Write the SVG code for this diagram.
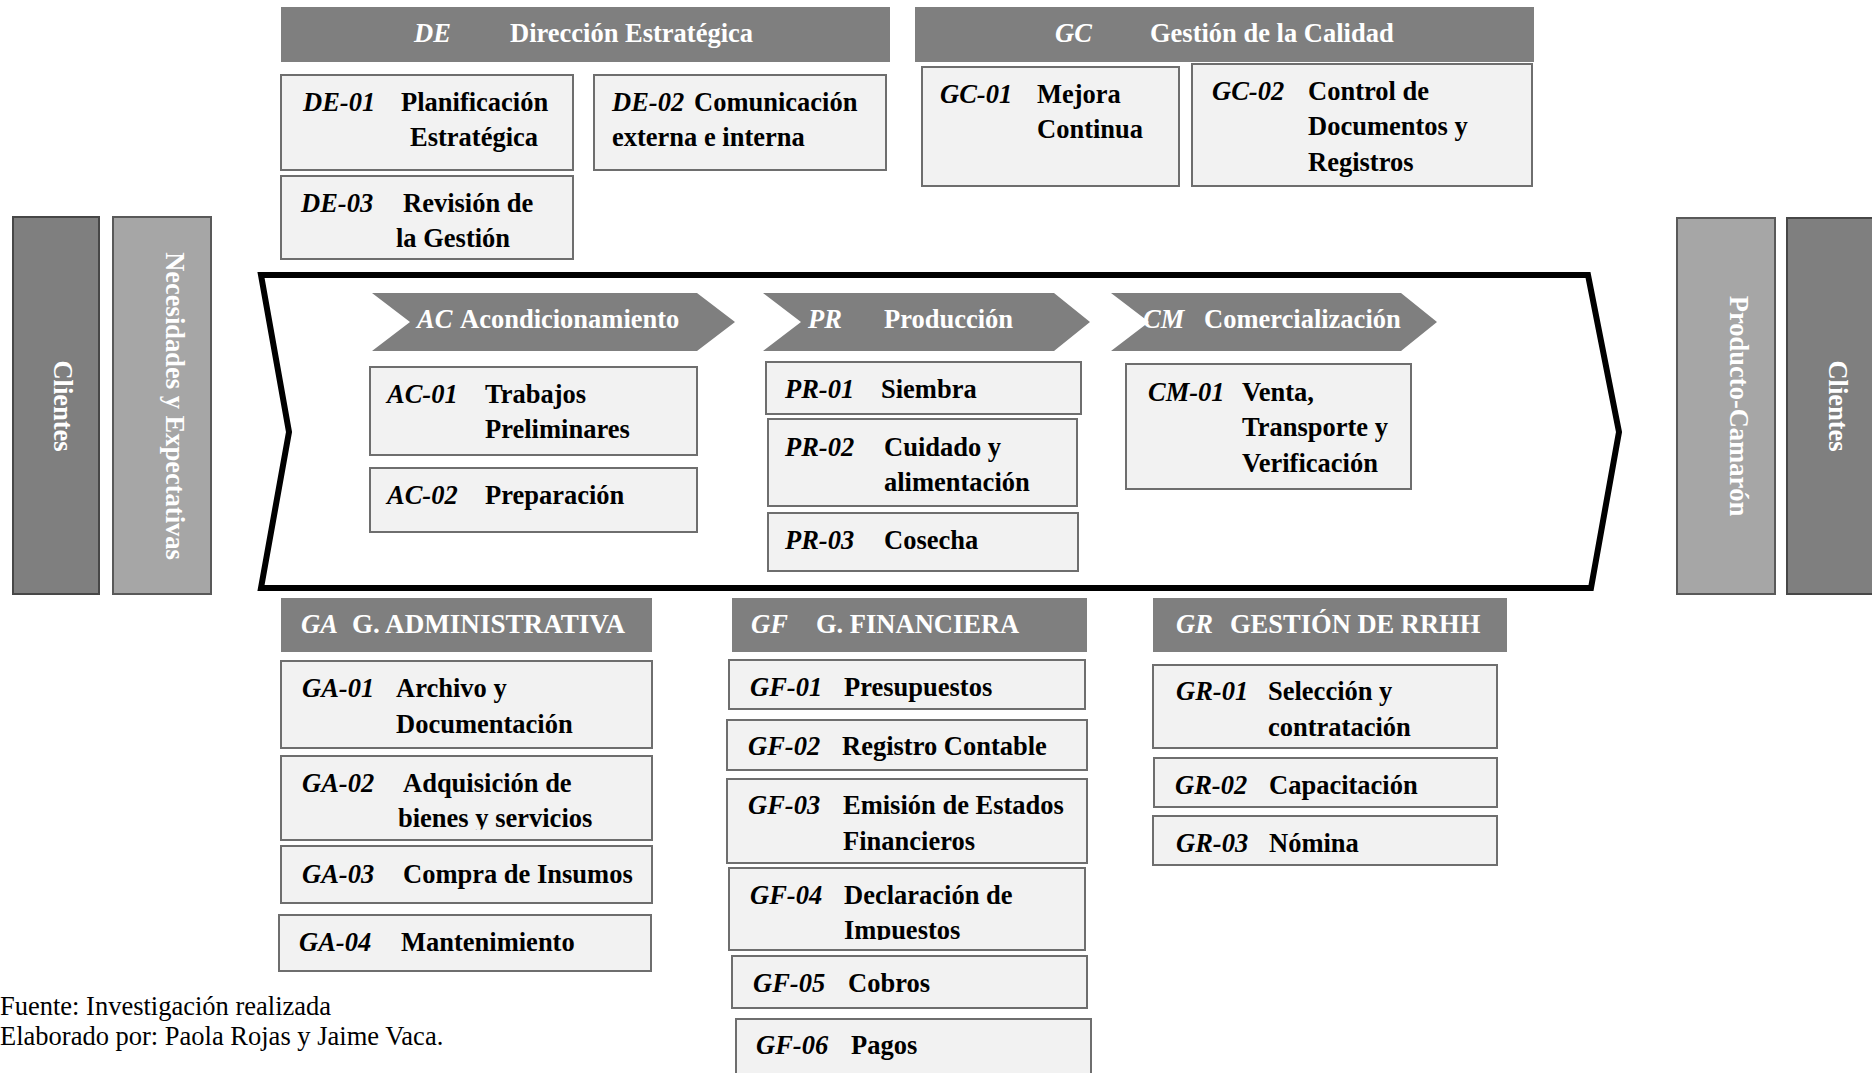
<svg xmlns="http://www.w3.org/2000/svg" width="1872" height="1073" viewBox="0 0 1872 1073">
<defs>
<style>
text{font-family:"Liberation Serif","Times New Roman",serif;font-size:26.5px;font-weight:bold;fill:#000}
.hd{fill:#7f7f7f}
.bx{fill:#f2f2f2;stroke:#6e6e6e;stroke-width:2}
.w{fill:#fff}
.cb{font-style:italic;font-weight:bold}
.dark{fill:#7f7f7f;stroke:#474747;stroke-width:2}
.light{fill:#a6a6a6;stroke:#595959;stroke-width:2}
.frame{fill:#fff;stroke:#000;stroke-width:6;stroke-linejoin:miter}
.foot{font-weight:normal}
</style>
<clipPath id="clip-ga02"><rect x="280" y="750" width="375" height="79.5"/></clipPath>
<clipPath id="clip-gf04"><rect x="728" y="860" width="360" height="80"/></clipPath>
</defs>

<!-- value-chain frame -->
<g id="connectors">
  <path class="frame" d="M261 275 L1588 275 L1619 432 L1591 588 L261 588 L289 432 Z"/>
</g>

<!-- side bands -->
<g id="clientes-in">
  <rect class="dark" x="13" y="217" width="86" height="377"/>
  <text class="w" transform="translate(54,406) rotate(90)" text-anchor="middle">Clientes</text>
</g>
<g id="necesidades">
  <rect class="light" x="113" y="217" width="98" height="377"/>
  <text class="w" transform="translate(166,406) rotate(90)" text-anchor="middle">Necesidades y Expectativas</text>
</g>
<g id="producto">
  <rect class="light" x="1677" y="218" width="98" height="376"/>
  <text class="w" transform="translate(1730,406) rotate(90)" text-anchor="middle">Producto-Camarón</text>
</g>
<g id="clientes-out">
  <rect class="dark" x="1787" y="218" width="100" height="376"/>
  <text class="w" transform="translate(1829,406) rotate(90)" text-anchor="middle">Clientes</text>
</g>

<!-- strategic processes -->
<g id="DE">
  <rect class="hd" x="281" y="7" width="609" height="55"/>
  <text class="w cb" x="414" y="42">DE</text>
  <text class="w" x="510" y="42">Dirección Estratégica</text>
</g>
<g id="DE-01">
  <rect class="bx" x="281" y="75" width="292" height="95"/>
  <text class="cb" x="303" y="111">DE-01</text>
  <text x="401" y="111">Planificación</text>
  <text x="410" y="146">Estratégica</text>
</g>
<g id="DE-02">
  <rect class="bx" x="594" y="75" width="292" height="95"/>
  <text class="cb" x="612" y="111">DE-02</text>
  <text x="694" y="111">Comunicación</text>
  <text x="612" y="146">externa e interna</text>
</g>
<g id="DE-03">
  <rect class="bx" x="281" y="176" width="292" height="83"/>
  <text class="cb" x="301" y="212">DE-03</text>
  <text x="403" y="212">Revisión de</text>
  <text x="396" y="247">la Gestión</text>
</g>

<g id="GC">
  <rect class="hd" x="915" y="7" width="619" height="55"/>
  <text class="w cb" x="1055" y="42">GC</text>
  <text class="w" x="1150" y="42">Gestión de la Calidad</text>
</g>
<g id="GC-01">
  <rect class="bx" x="922" y="67" width="257" height="119"/>
  <text class="cb" x="940" y="103">GC-01</text>
  <text x="1037" y="103">Mejora</text>
  <text x="1037" y="138">Continua</text>
</g>
<g id="GC-02">
  <rect class="bx" x="1192" y="64" width="340" height="122"/>
  <text class="cb" x="1212" y="100">GC-02</text>
  <text x="1308" y="100">Control de</text>
  <text x="1308" y="135">Documentos y</text>
  <text x="1308" y="171">Registros</text>
</g>

<!-- operative processes -->
<g id="AC">
  <polygon class="hd" points="372,293 697,293 735,322 697,351 372,351 410,322"/>
  <text class="w cb" x="417" y="328">AC</text>
  <text class="w" x="460" y="328">Acondicionamiento</text>
</g>
<g id="AC-01">
  <rect class="bx" x="370" y="367" width="327" height="88"/>
  <text class="cb" x="387" y="403">AC-01</text>
  <text x="485" y="403">Trabajos</text>
  <text x="485" y="438">Preliminares</text>
</g>
<g id="AC-02">
  <rect class="bx" x="370" y="468" width="327" height="64"/>
  <text class="cb" x="387" y="504">AC-02</text>
  <text x="485" y="504">Preparación</text>
</g>

<g id="PR">
  <polygon class="hd" points="763,293 1054,293 1090,322 1054,351 763,351 801,322"/>
  <text class="w cb" x="808" y="328">PR</text>
  <text class="w" x="884" y="328">Producción</text>
</g>
<g id="PR-01">
  <rect class="bx" x="766" y="362" width="315" height="52"/>
  <text class="cb" x="785" y="398">PR-01</text>
  <text x="881" y="398">Siembra</text>
</g>
<g id="PR-02">
  <rect class="bx" x="768" y="419" width="309" height="87"/>
  <text class="cb" x="785" y="456">PR-02</text>
  <text x="884" y="456">Cuidado y</text>
  <text x="884" y="491">alimentación</text>
</g>
<g id="PR-03">
  <rect class="bx" x="768" y="513" width="310" height="58"/>
  <text class="cb" x="785" y="549">PR-03</text>
  <text x="884" y="549">Cosecha</text>
</g>

<g id="CM">
  <polygon class="hd" points="1111,293 1401,293 1437,322 1401,351 1111,351 1149,322"/>
  <text class="w cb" x="1143" y="328">CM</text>
  <text class="w" x="1204" y="328">Comercialización</text>
</g>
<g id="CM-01">
  <rect class="bx" x="1126" y="364" width="285" height="125"/>
  <text class="cb" x="1148" y="401">CM-01</text>
  <text x="1242" y="401">Venta,</text>
  <text x="1242" y="436">Transporte y</text>
  <text x="1242" y="472">Verificación</text>
</g>

<!-- support processes -->
<g id="GA">
  <rect class="hd" x="281" y="598" width="371" height="54"/>
  <text class="w cb" x="301" y="633">GA</text>
  <text class="w" x="352" y="633" textLength="273" lengthAdjust="spacingAndGlyphs">G. ADMINISTRATIVA</text>
</g>
<g id="GA-01">
  <rect class="bx" x="281" y="661" width="371" height="87"/>
  <text class="cb" x="302" y="697">GA-01</text>
  <text x="396" y="697">Archivo y</text>
  <text x="396" y="733">Documentación</text>
</g>
<g id="GA-02">
  <rect class="bx" x="281" y="756" width="371" height="84"/>
  <text class="cb" x="302" y="792">GA-02</text>
  <text x="403" y="792">Adquisición de</text>
  <text x="398" y="827" clip-path="url(#clip-ga02)">bienes y servicios</text>
</g>
<g id="GA-03">
  <rect class="bx" x="281" y="846" width="371" height="57"/>
  <text class="cb" x="302" y="883">GA-03</text>
  <text x="403" y="883">Compra de Insumos</text>
</g>
<g id="GA-04">
  <rect class="bx" x="279" y="915" width="372" height="56"/>
  <text class="cb" x="299" y="951">GA-04</text>
  <text x="401" y="951">Mantenimiento</text>
</g>

<g id="GF">
  <rect class="hd" x="732" y="598" width="355" height="54"/>
  <text class="w cb" x="751" y="633">GF</text>
  <text class="w" x="816" y="633">G. FINANCIERA</text>
</g>
<g id="GF-01">
  <rect class="bx" x="729" y="660" width="356" height="49"/>
  <text class="cb" x="750" y="696">GF-01</text>
  <text x="844" y="696">Presupuestos</text>
</g>
<g id="GF-02">
  <rect class="bx" x="727" y="720" width="360" height="50"/>
  <text class="cb" x="748" y="755">GF-02</text>
  <text x="842" y="755">Registro Contable</text>
</g>
<g id="GF-03">
  <rect class="bx" x="727" y="779" width="360" height="84"/>
  <text class="cb" x="748" y="814">GF-03</text>
  <text x="843" y="814">Emisión de Estados</text>
  <text x="843" y="850">Financieros</text>
</g>
<g id="GF-04">
  <rect class="bx" x="729" y="868" width="356" height="82"/>
  <text class="cb" x="750" y="904">GF-04</text>
  <text x="844" y="904">Declaración de</text>
  <text x="844" y="939" clip-path="url(#clip-gf04)">Impuestos</text>
</g>
<g id="GF-05">
  <rect class="bx" x="732" y="956" width="355" height="52"/>
  <text class="cb" x="753" y="992">GF-05</text>
  <text x="848" y="992">Cobros</text>
</g>
<g id="GF-06">
  <rect class="bx" x="736" y="1019" width="355" height="70"/>
  <text class="cb" x="756" y="1054">GF-06</text>
  <text x="851" y="1054">Pagos</text>
</g>

<g id="GR">
  <rect class="hd" x="1153" y="598" width="354" height="54"/>
  <text class="w cb" x="1176" y="633">GR</text>
  <text class="w" x="1230" y="633">GESTIÓN DE RRHH</text>
</g>
<g id="GR-01">
  <rect class="bx" x="1153" y="665" width="344" height="83"/>
  <text class="cb" x="1176" y="700">GR-01</text>
  <text x="1268" y="700">Selección y</text>
  <text x="1268" y="736">contratación</text>
</g>
<g id="GR-02">
  <rect class="bx" x="1154" y="758" width="343" height="49"/>
  <text class="cb" x="1175" y="794">GR-02</text>
  <text x="1269" y="794">Capacitación</text>
</g>
<g id="GR-03">
  <rect class="bx" x="1153" y="816" width="344" height="49"/>
  <text class="cb" x="1176" y="852">GR-03</text>
  <text x="1269" y="852">Nómina</text>
</g>

<!-- source note -->
<g id="nota">
  <text class="foot" x="0" y="1015">Fuente: Investigación realizada</text>
  <text class="foot" x="0" y="1045">Elaborado por: Paola Rojas y Jaime Vaca.</text>
</g>
</svg>
